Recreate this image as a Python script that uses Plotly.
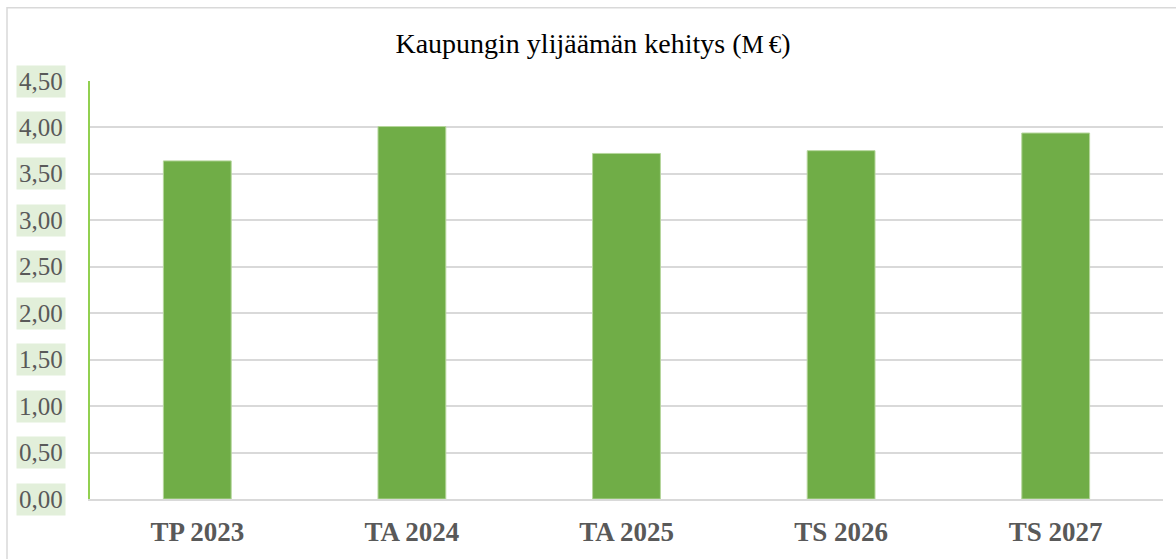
import plotly.graph_objects as go

categories = ["TP 2023", "TA 2024", "TA 2025", "TS 2026", "TS 2027"]
values = [3.64, 4.01, 3.72, 3.75, 3.94]
y_ticks = [0, 0.5, 1.0, 1.5, 2.0, 2.5, 3.0, 3.5, 4.0, 4.5]
y_tick_labels = ["0,00", "0,50", "1,00", "1,50", "2,00", "2,50", "3,00", "3,50", "4,00", "4,50"]
title_text = "Kaupungin ylijäämän kehitys (<span style='font-size:25px'>M\u2009€</span>)"

W, H = 1176, 559
ml, mr, mt, mb = 90, 13, 81, 53

fig = go.Figure()
fig.add_trace(go.Bar(
    x=categories, y=values,
    marker=dict(color="#70ad47", line=dict(color="#b5d69c", width=1)),
    width=0.316,
))

annotations = []
for v, lab in zip(y_ticks, y_tick_labels):
    annotations.append(dict(
        x=0, xref="paper", y=v, yref="y", text=lab, showarrow=False,
        xanchor="right", yanchor="middle", xshift=-24,
        font=dict(family="Liberation Serif", size=25, color="#595959"),
        bgcolor="#e2efda", borderpad=2,
    ))

pw = W - ml - mr
ph = H - mt - mb
fig.add_shape(type="rect", xref="paper", yref="paper",
              x0=(7 - ml) / pw, x1=(1185 - ml) / pw,
              y0=(H - mb - 570) / ph, y1=(H - mb - 6.5) / ph,
              line=dict(color="#d9d9d9", width=1.5), fillcolor="rgba(0,0,0,0)", layer="below")

fig.update_layout(
    width=W, height=H,
    margin=dict(l=ml, r=mr, t=mt, b=mb),
    paper_bgcolor="white", plot_bgcolor="white",
    showlegend=False,
    title=dict(text=title_text, x=593 / W, xanchor="center", y=1 - 43 / H, yanchor="middle",
               font=dict(family="Liberation Serif", size=28, color="#000000")),
    annotations=annotations,
    xaxis=dict(
        showgrid=False, showline=True, linecolor="#d9d9d9", linewidth=1.5,
        tickfont=dict(family="Liberation Serif", size=27, color="#595959", weight="bold"),
        ticks="", ticklabelstandoff=8,
    ),
    yaxis=dict(
        range=[0, 4.5], tickvals=y_ticks, showticklabels=False,
        showgrid=True, gridcolor="#d9d9d9", gridwidth=1.5,
        showline=True, linecolor="#92d050", linewidth=1.5,
        zeroline=False, ticks="",
    ),
)

fig.write_html("out.html", config={"displayModeBar": False},
               post_script="document.body.style.margin='0';document.body.style.overflow='hidden';")
